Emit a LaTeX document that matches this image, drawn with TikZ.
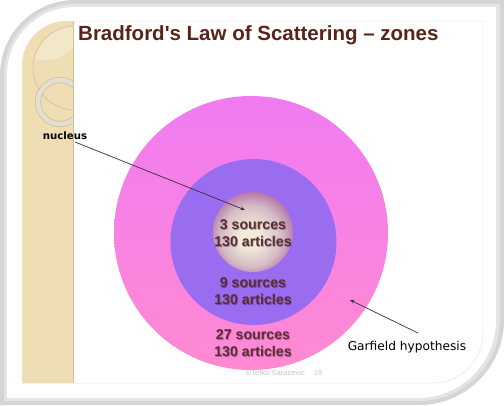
\documentclass[tikz,border=0pt]{standalone}
\usepackage{fontspec}
\setmainfont{Liberation Sans}
\newfontfamily\comicfont{DejaVu Sans}
\usetikzlibrary{arrows.meta}
\definecolor{frameA}{HTML}{D5D5D5}
\definecolor{frameB}{HTML}{E4E4E4}
\definecolor{beige}{HTML}{EFDDB3}
\definecolor{beigeline}{HTML}{D2BE93}
\definecolor{ringcol}{HTML}{E3DFD3}
\definecolor{titlecol}{HTML}{5A2418}
\definecolor{txtcol}{HTML}{5A2C35}
\definecolor{pinktop}{HTML}{F07BF2}
\definecolor{pinkbot}{HTML}{FF8AD2}
\definecolor{purplec}{HTML}{9A6CF0}
\definecolor{cream}{HTML}{F3ECDA}
\definecolor{lightp}{HTML}{D6BCC6}
\definecolor{midp}{HTML}{A4569E}
\definecolor{deepp}{HTML}{84317F}
\definecolor{darkp}{HTML}{6A2068}
\definecolor{footcol}{HTML}{C6C6C6}
\definecolor{slideedge}{HTML}{E6E6E6}
\pgfdeclareradialshading{spherebody}{\pgfpoint{-2bp}{-4bp}}{color(0bp)=(cream); color(6bp)=(cream); color(19bp)=(lightp); color(31bp)=(midp); color(41bp)=(deepp); color(50bp)=(darkp)}
\tikzset{
  ctext/.style={align=center, text=txtcol, font=\fontsize{14.2}{17}\selectfont\bfseries, inner sep=0pt},
  cshadow/.style={align=center, text=black, opacity=0.28, font=\fontsize{14.2}{17}\selectfont\bfseries, inner sep=0pt},
  conn/.style={draw=black!80, line width=0.7pt, -{Stealth[length=4.5pt,width=3.5pt]}},
  lbl/.style={font=\comicfont\fontsize{12.2}{14}\selectfont, text=black, inner sep=0pt},
}
\begin{document}
\begin{tikzpicture}[x=1pt,y=-1pt]
\useasboundingbox (0,0) rectangle (504,405);
\fill[white] (0,0) rectangle (504,405);
% frame / shadow
\fill[frameA] (0,75) arc[start angle=180,end angle=270,radius=75] -- (504,0) -- (504,320) arc[start angle=0,end angle=90,radius=85] -- (0,405) -- cycle;
\fill[frameB] (4,75) arc[start angle=180,end angle=270,radius=71] -- (500,4) -- (500,320) arc[start angle=0,end angle=90,radius=81] -- (4,401) -- cycle;
% white card
\fill[white] (7,75) arc[start angle=180,end angle=270,radius=68] -- (496,7) -- (496,320) arc[start angle=0,end angle=90,radius=78] -- (7,398) -- cycle;
% slide
\begin{scope}
\clip (22,66) arc[start angle=180,end angle=270,radius=45] -- (483,21) -- (483,333) arc[start angle=0,end angle=90,radius=50] -- (22,383) -- cycle;
\fill[white] (22,21) rectangle (483,383);
\fill[beige] (22,0) rectangle (73,405);
\begin{scope}
\clip (22,0) rectangle (73,405);
\begin{scope}
\clip (75,68) circle[radius=42];
\fill[white,opacity=0.3] (45,22) circle[radius=38];
\end{scope}
\draw[beigeline,line width=0.6pt] (75,68) circle[radius=42];
\draw[draw=beigeline!80!black,line width=6pt,opacity=0.45] (60,102) circle[radius=22];
\draw[draw=ringcol,line width=4.6pt] (60,102) circle[radius=22];
\end{scope}
\draw[beigeline,line width=0.8pt] (73,0) -- (73,405);
\end{scope}
\draw[slideedge,line width=0.5pt] (22,66) arc[start angle=180,end angle=270,radius=45] -- (483,21) -- (483,333) arc[start angle=0,end angle=90,radius=50] -- (22,383) -- cycle;
% title
\node[anchor=base west, inner sep=0pt, text=titlecol, font=\fontsize{20.5}{24}\selectfont\bfseries] (title) at (78,40) {Bradford\textquotesingle s Law of Scattering -- zones};
% circles
\shade[top color=pinktop, bottom color=pinkbot] (251,233) circle[radius=137];
\fill[purplec] (253.5,242) circle[radius=83];
\shade[shading=spherebody] (253,232) circle[radius=40];
% texts (soft shadow then text)
\node[cshadow] at (253.8,234.3) {3 sources\\130 articles};
\node[cshadow] at (253.8,292.3) {9 sources\\130 articles};
\node[cshadow] at (253.8,344.3) {27 sources\\130 articles};
\node[ctext] (zone1) at (253,233.5) {3 sources\\130 articles};
\node[ctext] (zone2) at (253,291.5) {9 sources\\130 articles};
\node[ctext] (zone3) at (253,343.5) {27 sources\\130 articles};
\node[font=\comicfont\bfseries\fontsize{10.2}{12}\selectfont, inner sep=0pt] (nuc) at (65,136) {nucleus};
\node[lbl] (garf) at (407,347) {Garfield hypothesis};
\node[text=footcol, font=\fontsize{7.6}{9}\selectfont, inner sep=0pt] (foot) at (284,373) {©Tefko Saracevic\hspace{9pt}19};
% connectors
\coordinate (nucS) at (75,142);
\coordinate (nucT) at (245,210);
\coordinate (garS) at (418,333);
\coordinate (garT) at (350,300);
\draw[conn] (nucS) -- (nucT);
\draw[conn] (garS) -- (garT);
\end{tikzpicture}
\end{document}
